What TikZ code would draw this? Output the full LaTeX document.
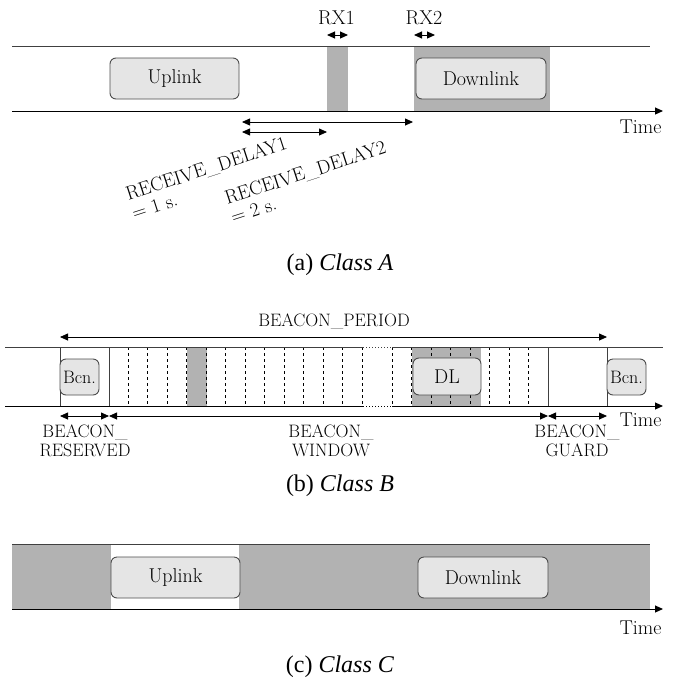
\documentclass[tikz,border=0pt]{standalone}
\usepackage{fontspec}
\newfontfamily\capfont{Liberation Serif}
\usetikzlibrary{arrows.meta}

\begin{document}
\begin{tikzpicture}[x=1pt,y=-1pt,>={Triangle[length=8pt,width=7pt]},line width=1pt,
  lbl/.style={inner sep=0pt,font=\fontsize{20}{22}\selectfont},
  dlbl/.style={inner sep=0pt,rotate=18,anchor=base west,align=left,
    font=\fontsize{19.5}{20}\selectfont},
  blbl/.style={inner sep=0pt,align=center,font=\fontsize{18}{19.5}\selectfont},
  msg/.style={draw=black!70,fill=black!10,rounded corners=6pt,line width=0.9pt,
    inner sep=0pt,font=\fontsize{20}{22}\selectfont},
  slot/.style={fill=black!30},
  subslot/.style={dash pattern=on 3pt off 3pt,line width=0.8pt},
  captxt/.style={inner sep=0pt,font=\capfont\fontsize{24}{26}\selectfont}]
  \useasboundingbox (0,0) rectangle (674,681);

  % (a) Class A
  \fill[slot] (327,46) rectangle (348,111);
  \fill[slot] (414,46) rectangle (550,111);
  \draw[black!75] (12,46) -- (650,46);
  \coordinate (tA0) at (12,111);
  \coordinate (tA1) at (663,111);
  \draw[->] (tA0) -- (tA1);
  \node[msg,minimum width=129pt,minimum height=41pt] (ulA) at (174.5,78.5) {Uplink};
  \node[msg,minimum width=130pt,minimum height=41pt] (dlA) at (481,78.5) {Downlink};
  \node[lbl] (rx1) at (336.5,18) {RX1};
  \node[lbl] (rx2) at (424,18) {RX2};
  \draw[<->] (327,35) -- (348,35);
  \draw[<->] (414,35) -- (435,35);
  \draw[<->,line width=0.8pt] (242,122) -- (413,122);
  \draw[<->,line width=0.8pt] (242,132) -- (327,132);
  \node[dlbl] (rd1) at (134,220) {RECEIVE\_DELAY1\\= 1 s.};
  \node[dlbl] (rd2) at (233,224) {RECEIVE\_DELAY2\\= 2 s.};
  \node[lbl,anchor=base east] (timeA) at (662,133) {Time};
  \node[captxt] (capA) at (340,265) {(a) \textit{Class A}};

  % (b) Class B
  \fill[slot] (187,347) rectangle (207,406);
  \fill[slot] (412,347) rectangle (481,406);
  \foreach \k in {0,...,12}
    \draw[subslot] ({128+19.5*\k},347) -- ++(0,59);
  \foreach \k in {0,...,7}
    \draw[subslot] ({392+19.5*\k},347) -- ++(0,59);
  \foreach \x in {60,109,548,607}
    \draw[black!75] (\x,347) -- (\x,406);
  \draw[black!75] (5,347) -- (363,347);
  \draw[black!75,dotted] (363,347) -- (392,347);
  \draw[black!75] (392,347) -- (663,347);
  \draw (5,406) -- (363,406);
  \draw[dotted] (363,406) -- (392,406);
  \draw[->] (392,406) -- (663,406);
  \node[msg,minimum width=39pt,minimum height=36pt,font=\fontsize{18}{20}\selectfont]
    (bcn1) at (79.5,377) {Bcn.};
  \node[msg,minimum width=68pt,minimum height=37pt] (dlB) at (447,376.5) {DL};
  \node[msg,minimum width=39pt,minimum height=36pt,font=\fontsize{18}{20}\selectfont]
    (bcn2) at (626.5,377) {Bcn.};
  \draw[<->,line width=0.8pt] (60,337) -- (607,337);
  \node[blbl] (period) at (334,321) {BEACON\_PERIOD};
  \draw[<->,line width=0.8pt] (60,416) -- (109,416);
  \draw[<->,line width=0.8pt] (109,416) -- (548,416);
  \draw[<->,line width=0.8pt] (548,416) -- (607,416);
  \node[blbl,anchor=north] (resv) at (85,424) {BEACON\_\\RESERVED};
  \node[blbl,anchor=north] (wind) at (331,424) {BEACON\_\\WINDOW};
  \node[blbl,anchor=north] (guard) at (577,424) {BEACON\_\\GUARD};
  \node[lbl,anchor=base east] (timeB) at (662,426) {Time};
  \node[captxt] (capB) at (340,486) {(b) \textit{Class B}};

  % (c) Class C
  \fill[slot] (12,544) rectangle (650,609);
  \fill[white] (111,544) rectangle (239,609);
  \draw[black!75] (12,544) -- (650,544);
  \draw[->] (12,609) -- (663,609);
  \node[msg,minimum width=129pt,minimum height=41pt] (ulC) at (175.5,577.5) {Uplink};
  \node[msg,minimum width=130pt,minimum height=41pt] (dlC) at (483,577.5) {Downlink};
  \node[lbl,anchor=base east] (timeC) at (662,634) {Time};
  \node[captxt] (capC) at (340,667) {(c) \textit{Class C}};
\end{tikzpicture}
\end{document}
